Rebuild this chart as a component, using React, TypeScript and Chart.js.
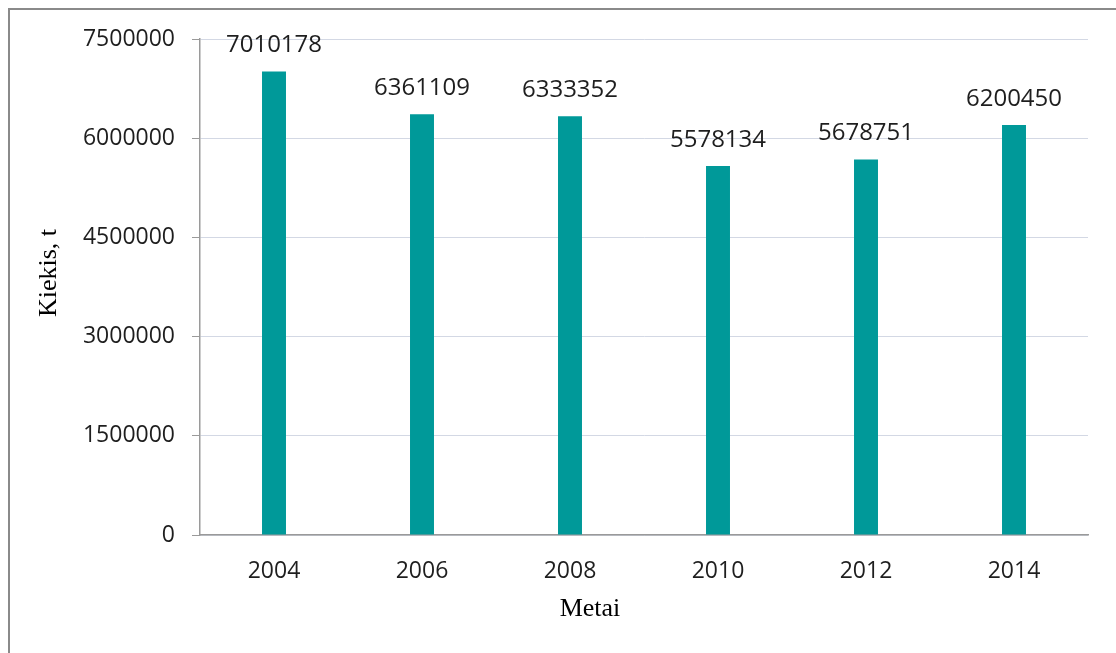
import React, { useEffect, useRef } from "react";
import { Chart, registerables } from "chart.js";

Chart.register(...registerables);

const YEARS = ["2004", "2006", "2008", "2010", "2012", "2014"];
const AMOUNTS = [7010178, 6361109, 6333352, 5578134, 5678751, 6200450];
const Y_MIN = 0;
const Y_MAX = 7500000;
const Y_STEP = 1500000;
const X_TITLE = "Metai";
const Y_TITLE = "Kiekis, t";

const W = 1116;
const H = 653;
const SANS = "'Open Sans', 'Noto Sans', sans-serif";
const SERIF = "'Liberation Serif', 'DejaVu Serif', serif";
const TEXT = "#1e1e1e";

const framePlugin = {
  id: "frame",
  beforeDraw(chart: any) {
    const ctx = chart.ctx;
    ctx.save();
    ctx.fillStyle = "#ffffff";
    ctx.fillRect(0, 0, chart.width, chart.height);
    ctx.strokeStyle = "#8a8a8a";
    ctx.lineWidth = 2;
    ctx.beginPath();
    ctx.moveTo(9, chart.height);
    ctx.lineTo(9, 9);
    ctx.lineTo(chart.width, 9);
    ctx.stroke();
    ctx.restore();
  },
};

const labelsPlugin = {
  id: "valueLabels",
  afterDatasetsDraw(chart: any) {
    const ctx = chart.ctx;
    const meta = chart.getDatasetMeta(0);
    const data = chart.data.datasets[0].data;
    ctx.save();
    ctx.fillStyle = TEXT;
    ctx.font = `24px ${SANS}`;
    ctx.textAlign = "center";
    ctx.textBaseline = "alphabetic";
    meta.data.forEach((bar: any, i: number) => {
      ctx.fillText(String(data[i]), bar.x, bar.y - 19);
    });
    ctx.restore();
  },
};

const titlesPlugin = {
  id: "axisTitles",
  afterDraw(chart: any) {
    const ctx = chart.ctx;
    ctx.save();
    ctx.fillStyle = "#000000";
    ctx.font = `26px ${SERIF}`;
    ctx.textAlign = "center";
    ctx.textBaseline = "alphabetic";
    ctx.fillText(X_TITLE, 590, 616);
    ctx.translate(56, 273);
    ctx.rotate(-Math.PI / 2);
    ctx.fillText(Y_TITLE, 0, 0);
    ctx.restore();
  },
};

export default function App() {
  const ref = useRef<HTMLCanvasElement | null>(null);

  useEffect(() => {
    if (!ref.current) return;
    const chart = new Chart(ref.current, {
      type: "bar",
      data: {
        labels: YEARS,
        datasets: [
          {
            data: AMOUNTS,
            backgroundColor: "#009999",
            borderWidth: 0,
            barPercentage: 0.162,
            categoryPercentage: 1,
          },
        ],
      },
      options: {
        animation: false,
        responsive: false,
        devicePixelRatio: 1,
        layout: { padding: { left: 0, top: 39, right: 28, bottom: 0 } },
        plugins: {
          legend: { display: false },
          tooltip: { enabled: false },
        },
        scales: {
          x: {
            afterFit(scale: any) {
              scale.height = 118;
            },
            grid: { display: false, drawTicks: false },
            border: { display: true, color: "#9a9a9a", width: 1.5 },
            ticks: {
              color: TEXT,
              font: { family: SANS, size: 23 },
              padding: 23,
              maxRotation: 0,
            },
          },
          y: {
            min: Y_MIN,
            max: Y_MAX,
            afterFit(scale: any) {
              scale.width = 200;
            },
            grid: {
              color: "#d3d8e4",
              lineWidth: 1,
              drawTicks: true,
              tickLength: 8,
              tickColor: "#9a9a9a",
            },
            border: { display: true, color: "#9a9a9a", width: 1.5 },
            ticks: {
              stepSize: Y_STEP,
              color: TEXT,
              font: { family: SANS, size: 23 },
              padding: 17,
              callback: (v: any) => String(v),
            },
          },
        },
      },
      plugins: [framePlugin, labelsPlugin, titlesPlugin],
    });
    return () => chart.destroy();
  }, []);

  return (
    <canvas
      ref={ref}
      width={W}
      height={H}
      style={{ position: "fixed", left: 0, top: 0, width: W, height: H }}
    />
  );
}
